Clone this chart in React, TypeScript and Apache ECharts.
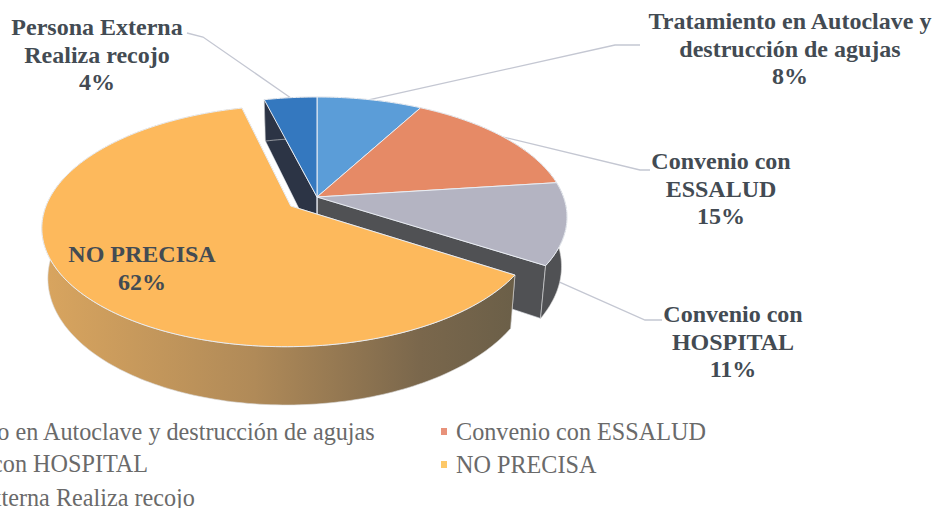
import React, { useEffect, useRef } from "react";
import * as echarts from "echarts";

const names = [
  "Tratamiento en Autoclave y destrucción de agujas",
  "Convenio con ESSALUD",
  "Convenio con HOSPITAL",
  "NO PRECISA",
  "Persona Externa Realiza recojo",
];
const values = [8, 15, 11, 62, 4];
const topColors = ["#5b9dd8", "#e68a66", "#b4b4c2", "#fdb95c", "#3478bf"];
const legendColors = ["#5b9dd8", "#e8927a", "#b4b4c2", "#fdc868", "#3478bf"];
const sideColors = ["#3a6a96", "#8a5a44", "#505154", "#8a6a45", "#2c3445"];
const calloutLines = [
  ["Tratamiento en Autoclave y", "destrucción de agujas"],
  ["Convenio con", "ESSALUD"],
  ["Convenio con", "HOSPITAL"],
  ["NO PRECISA"],
  ["Persona Externa", "Realiza recojo"],
];
const calloutCentres = [
  [790, 21],
  [721, 161],
  [733, 314],
  [142, 254],
  [97, 27],
];
const explode = [0, 0, 0, 0.13, 0];
const radiusScale = [1, 1, 1, 0.98, 1];
const leaderEnds = [
  [[615, 45], [640, 45]],
  [[640, 170], [650, 170]],
  [[645, 320], [662, 320]],
  null,
  [[203, 37], [187, 33]],
];
const leaderAt = [0.5, 0.5, 0.85, 0.5, 0.5];
const leaderDepth = [0, 0, 0.5, 0, 0];

const CX = 317, CY = 197, RX = 246.5, RY = 116.7, P = 0.167, H = 48, SHRINK = 0.978;
const total = values.reduce((a, b) => a + b, 0);

function project(X: number, Y: number, level: number): number[] {
  const d = 1 - P * Y;
  let x = CX + (RX * X) / d;
  const y = CY + (RY * Y) / d + (level * H) / d;
  x = CX + (x - CX) * (1 - level * (1 - SHRINK));
  return [x, y];
}

function renderSlice(params: any, api: any) {
  const i = params.dataIndex;
  let before = 0;
  for (let k = 0; k < i; k++) before += values[k];
  const a0 = (before / total) * Math.PI * 2;
  const a1 = ((before + api.value(0)) / total) * Math.PI * 2;
  const mid = (a0 + a1) / 2;
  const ox = Math.sin(mid) * explode[i];
  const oy = -Math.cos(mid) * explode[i];
  const r = radiusScale[i];
  const pt = (a: number, level: number) => project(Math.sin(a) * r + ox, -Math.cos(a) * r + oy, level);
  const apex = (level: number) => project(ox, oy, level);

  const n = Math.max(2, Math.ceil((a1 - a0) / 0.02));
  const top: number[][] = [];
  const bottom: number[][] = [];
  for (let k = 0; k <= n; k++) {
    const a = a0 + ((a1 - a0) * k) / n;
    top.push(pt(a, 0));
    bottom.push(pt(a, 1));
  }
  const lift = explode[i] > 0 ? 3 : 0;
  const side = sideColors[i];
  const rimFill: any = explode[i] > 0
    ? {
        type: "linear", x: 0, y: 0, x2: 1, y2: 0,
        colorStops: [
          { offset: 0, color: "#d9a55f" },
          { offset: 0.45, color: "#b08a58" },
          { offset: 0.8, color: "#7a674c" },
          { offset: 1, color: "#6b5f48" },
        ],
      }
    : side;
  const edge = "#e9edf3";
  const children: any[] = [
    { type: "polygon", z2: 1 + lift, shape: { points: [apex(0), pt(a0, 0), pt(a0, 1), apex(1)] }, style: { fill: side, stroke: edge, lineWidth: 0.6 } },
    { type: "polygon", z2: 1 + lift, shape: { points: [apex(0), pt(a1, 0), pt(a1, 1), apex(1)] }, style: { fill: side, stroke: edge, lineWidth: 0.6 } },
    { type: "polygon", z2: 2 + lift, shape: { points: [...top, ...bottom.slice().reverse()] }, style: { fill: rimFill, stroke: "#d8d8d8", lineWidth: 0.6 } },
    { type: "polygon", z2: 3 + lift, shape: { points: [apex(0), ...top] }, style: { fill: topColors[i], stroke: edge, lineWidth: 1 } },
  ];
  if (leaderEnds[i]) {
    const la = a0 + (a1 - a0) * leaderAt[i];
    const t = pt(la, 0);
    const b = pt(la, 1);
    const f = leaderDepth[i];
    const start = [t[0] + (b[0] - t[0]) * f, t[1] + (b[1] - t[1]) * f];
    children.unshift({
      type: "polyline", z2: 0,
      shape: { points: [start, ...(leaderEnds[i] as number[][])] },
      style: { fill: "none", stroke: "#c4c7d2", lineWidth: 1.3 },
    });
  }
  return { type: "group", children };
}

const LABEL_FONT = 'bold 24px "Liberation Serif"';
const LEGEND_FONT = '24.2px "Liberation Serif"';
const legendSlots = [
  [-108, 431, -123],
  [456, 431, 441],
  [-108, 463, -123],
  [456, 464, 441],
  [-108, 497, -123],
];

function buildGraphic() {
  const els: any[] = [];
  calloutLines.forEach((lines, i) => {
    const rows = [...lines, `${values[i]}%`];
    rows.forEach((t, r) => {
      els.push({
        type: "text", z: 100,
        x: calloutCentres[i][0], y: calloutCentres[i][1] + r * 27.5,
        style: { text: t, font: LABEL_FONT, fill: "#434b53", textAlign: "center", textVerticalAlign: "middle" },
      });
    });
  });
  names.forEach((name, i) => {
    const [tx, ty, mx] = legendSlots[i];
    els.push({ type: "rect", z: 100, shape: { x: mx, y: ty - 3, width: 6, height: 7 }, style: { fill: legendColors[i] } });
    els.push({
      type: "text", z: 100, x: tx, y: ty,
      style: { text: name, font: LEGEND_FONT, fill: "#6a6a6a", textAlign: "left", textVerticalAlign: "middle" },
    });
  });
  return els;
}

export default function App() {
  const ref = useRef<HTMLDivElement>(null);
  useEffect(() => {
    document.body.style.margin = "0";
    const chart = echarts.init(ref.current!, undefined, { renderer: "svg" });
    chart.setOption({
      animation: false,
      backgroundColor: "#ffffff",
      series: [
        {
          type: "custom",
          coordinateSystem: "none",
          renderItem: renderSlice,
          data: values.map((v, i) => ({ name: names[i], value: [v] })),
          silent: true,
        },
      ],
      graphic: buildGraphic(),
    });
    return () => chart.dispose();
  }, []);
  return <div ref={ref} style={{ width: 943, height: 508, overflow: "hidden" }} />;
}
